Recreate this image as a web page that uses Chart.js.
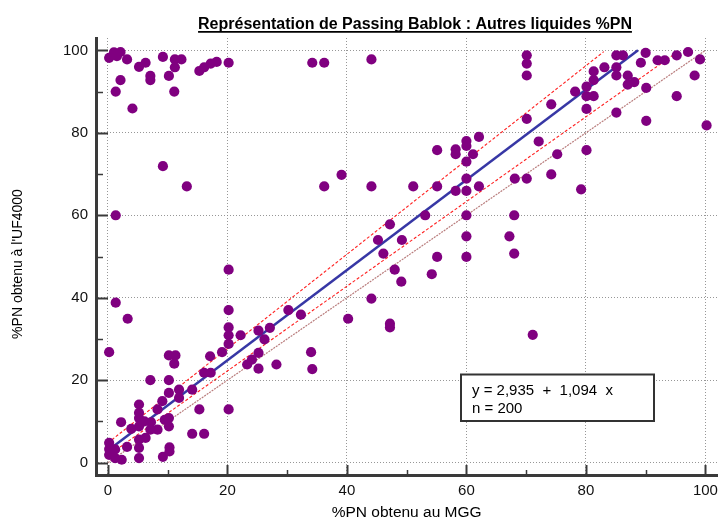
<!DOCTYPE html>
<html>
<head>
<meta charset="utf-8">
<script src="https://cdn.jsdelivr.net/npm/chart.js@4"></script>
<style>
html,body{margin:0;padding:0;background:#fff;}
#wrap{width:725px;height:520px;position:relative;}
</style>
</head>
<body>
<div id="wrap"><canvas id="c" width="725" height="520"></canvas></div>
<script>
// ---------- texts ----------
const chartTitle = 'Représentation de Passing Bablok : Autres liquides %PN';
const xAxisTitle = '%PN obtenu au MGG';
const yAxisTitle = "%PN obtenu à l'UF4000";

const xValues = [
  0.2, 1.0, 2.1, 1.5, 3.2, 5.2, 6.3, 7.1, 7.1, 9.2, 11.2, 12.3, 11.2, 10.2, 11.1, 2.1, 1.3, 4.1,
  15.3, 16.1, 17.2, 18.2, 20.2, 9.2, 13.2,
  34.2, 36.2, 44.1, 70.1, 70.1, 70.1, 70.1, 72.1, 62.1, 60.0, 60.0, 55.1, 58.2, 58.2, 61.1, 60.0,
  39.1, 36.2, 44.1, 51.1, 55.1, 60.0, 62.1, 58.2, 60.0, 68.1, 70.1,
  74.2, 78.2, 80.1, 80.1, 81.3, 81.3, 81.3, 80.1, 83.1, 85.1, 86.2, 85.1, 85.1, 85.1, 87.0, 87.0,
  88.1, 89.2, 90.0, 90.1, 90.1, 92.0, 93.2, 95.2, 95.2, 97.1, 99.1, 98.2, 100.2, 80.1, 75.2, 74.2, 79.2,
  47.2, 45.2, 49.2, 46.1, 53.1, 60.0, 68.0, 60.0, 67.2, 55.1, 60.0, 68.0, 48.0, 49.1, 54.2, 44.1,
  32.3, 40.2, 47.2, 47.2, 34.0, 71.1, 34.2,
  1.3, 20.2, 1.3, 3.3, 20.2, 20.2, 20.2, 22.2, 30.2, 25.2, 27.1, 20.2, 26.2, 25.2, 19.1, 17.1,
  24.1, 23.3, 25.2, 28.2, 16.1, 17.2,
  0.2, 10.2, 11.3, 11.1, 7.1, 10.2, 10.2, 11.9, 11.9, 14.1, 9.1, 5.2, 5.2, 5.2, 8.3, 15.3, 20.2,
  2.2, 3.9, 5.2, 6.1, 7.2, 10.2, 10.2, 9.5, 6.3, 8.3, 14.1, 16.1, 10.3, 10.3, 9.2, 5.2, 5.2, 3.2,
  0.2, 0.2, 0.2, 1.2, 2.3, 1.2, 5.2, 7.1
];
const yValues = [
  98.2, 99.5, 99.6, 98.6, 97.8, 96.0, 97.0, 93.8, 92.8, 98.4, 97.8, 97.8, 95.9, 93.8, 90.0, 92.8, 90.0, 85.9,
  95.0, 95.9, 96.8, 97.2, 97.0, 71.9, 67.0,
  97.0, 97.0, 97.8, 98.8, 96.8, 93.9, 83.4, 77.9, 79.0, 78.0, 76.8, 75.8, 76.0, 74.8, 74.8, 73.0,
  69.8, 67.0, 67.0, 67.0, 67.0, 68.9, 67.0, 65.9, 65.9, 68.9, 68.9,
  86.9, 90.0, 91.2, 88.9, 88.9, 94.9, 92.8, 85.8, 95.9, 98.8, 98.8, 95.9, 93.9, 84.9, 93.9, 91.7,
  92.3, 97.0, 99.4, 90.9, 82.9, 97.6, 97.6, 98.8, 88.9, 99.6, 97.8, 93.9, 81.8, 75.8, 74.8, 69.9, 66.3,
  57.8, 54.0, 54.0, 50.7, 60.0, 60.0, 60.0, 54.9, 54.9, 49.9, 49.9, 50.7, 46.8, 43.9, 45.7, 39.8,
  35.9, 34.9, 33.7, 32.8, 26.8, 31.0, 22.7,
  60.0, 46.8, 38.8, 34.9, 37.0, 32.8, 30.9, 30.9, 37.0, 32.0, 32.7, 28.8, 29.9, 26.6, 26.8, 25.8,
  25.0, 23.8, 22.8, 23.8, 21.8, 21.8,
  26.8, 26.0, 26.0, 24.0, 20.0, 20.0, 16.9, 17.7, 15.7, 17.7, 14.9, 14.1, 12.1, 10.8, 12.9, 12.9, 12.9,
  9.8, 8.2, 8.8, 10.0, 9.8, 10.8, 8.8, 10.4, 6.0, 8.0, 7.0, 7.0, 3.7, 2.7, 1.4, 3.6, 1.1, 3.8,
  4.8, 3.3, 1.9, 1.1, 0.7, 3.2, 5.6, 8.0
];

// ---------- fit & reference lines ----------
const intercept = 2.935;
const slope = 1.094;
const nObs = 200;
const regressionX = [0, (100 - intercept) / slope];
const ciUpperX = [0, 83.0];
const ciUpperY = [4.8, 99.7];
const ciLowerX = [0, 95.5];
const ciLowerY = [1.7, 99.8];
const identityX = [0, 100];
const identityY = [0, 100];

// ---------- axes ----------
const xRange = [-2, 102];
const yRange = [-3, 103];
const xTickValues = [0, 10, 20, 30, 40, 50, 60, 70, 80, 90, 100];
const yTickValues = [0, 10, 20, 30, 40, 50, 60, 70, 80, 90, 100];
const labelStep = 20;

// ---------- build ----------
const FONT = '"Liberation Sans", Arial, Helvetica, sans-serif';
Chart.defaults.font.family = FONT;
Chart.defaults.color = '#111';

const pts = xValues.map((x, i) => ({x: x, y: yValues[i]}));
const regLine = regressionX.map(x => ({x: x, y: intercept + slope * x}));
const upLine = ciUpperX.map((x, i) => ({x: x, y: ciUpperY[i]}));
const loLine = ciLowerX.map((x, i) => ({x: x, y: ciLowerY[i]}));
const idLine = identityX.map((x, i) => ({x: x, y: identityY[i]}));

const fmt = v => v.toFixed(3).replace('.', ',');

const decorPlugin = {
  id: 'decor',
  afterDraw(chart) {
    const ctx = chart.ctx;
    const area = chart.chartArea;
    const xs = chart.scales.x, ys = chart.scales.y;
    ctx.save();
    // inward tick marks
    ctx.strokeStyle = '#3a3a3a';
    yTickValues.forEach(v => {
      const major = v % labelStep === 0;
      const py = Math.round(ys.getPixelForValue(v)) + 0.5;
      ctx.lineWidth = major ? 2 : 1.5;
      ctx.beginPath();
      ctx.moveTo(area.left, py);
      ctx.lineTo(area.left + (major ? 12 : 7), py);
      ctx.stroke();
    });
    xTickValues.forEach(v => {
      const major = v % labelStep === 0;
      const px = Math.round(xs.getPixelForValue(v)) + 0.5;
      ctx.lineWidth = major ? 2 : 1.5;
      ctx.beginPath();
      ctx.moveTo(px, area.bottom);
      ctx.lineTo(px, area.bottom - (major ? 10 : 5));
      ctx.stroke();
    });
    // title with underline
    ctx.fillStyle = '#000';
    ctx.font = 'bold 16px ' + FONT;
    ctx.textAlign = 'center';
    ctx.textBaseline = 'alphabetic';
    const cx = 415, by = 29;
    ctx.fillText(chartTitle, cx, by);
    const w = ctx.measureText(chartTitle).width;
    ctx.lineWidth = 1.8;
    ctx.strokeStyle = '#000';
    ctx.beginPath();
    ctx.moveTo(cx - w / 2, by + 2.8);
    ctx.lineTo(cx + w / 2, by + 2.8);
    ctx.stroke();
    // y axis title
    ctx.save();
    ctx.translate(18, 264);
    ctx.rotate(-Math.PI / 2);
    ctx.font = '14px ' + FONT;
    ctx.textAlign = 'center';
    ctx.textBaseline = 'middle';
    ctx.fillText(yAxisTitle, 0, 0);
    ctx.restore();
    // equation box
    const bx = 461, bTop = 374.5, bw = 193, bh = 46.5;
    ctx.fillStyle = '#fff';
    ctx.fillRect(bx, bTop, bw, bh);
    ctx.lineWidth = 2;
    ctx.strokeStyle = '#333';
    ctx.strokeRect(bx, bTop, bw, bh);
    ctx.fillStyle = '#000';
    ctx.font = '15px ' + FONT;
    ctx.textAlign = 'left';
    ctx.fillText('y = ' + fmt(intercept) + '  +  ' + fmt(slope) + '  x', 472, 394.5);
    ctx.fillText('n = ' + nObs, 472, 413);
    ctx.restore();
  }
};

new Chart(document.getElementById('c'), {
  type: 'scatter',
  data: {
    datasets: [
      {
        type: 'scatter',
        data: pts,
        pointRadius: 5.1,
        pointHoverRadius: 5.1,
        pointBackgroundColor: '#800080',
        pointBorderWidth: 0,
        borderColor: '#800080'
      },
      {
        type: 'line', data: regLine, borderColor: 'rgb(55,55,165)', borderWidth: 2.5,
        pointRadius: 0, fill: false, tension: 0
      },
      {
        type: 'line', data: upLine, borderColor: 'rgba(255,20,20,0.95)', borderWidth: 1.1,
        borderDash: [3, 2], pointRadius: 0, fill: false, tension: 0
      },
      {
        type: 'line', data: loLine, borderColor: 'rgba(255,20,20,0.95)', borderWidth: 1.1,
        borderDash: [3, 2], pointRadius: 0, fill: false, tension: 0
      },
      {
        type: 'line', data: idLine, borderColor: 'rgb(185,125,125)', borderWidth: 1.2,
        borderDash: [2, 1], pointRadius: 0, fill: false, tension: 0
      }
    ]
  },
  options: {
    responsive: false,
    animation: false,
    devicePixelRatio: 1,
    layout: {padding: {top: 38, right: 2, left: 0, bottom: 0}},
    plugins: {
      legend: {display: false},
      tooltip: {enabled: false},
      title: {display: false}
    },
    scales: {
      x: {
        type: 'linear',
        position: 'bottom',
        min: xRange[0],
        max: xRange[1],
        afterBuildTicks: s => { s.ticks = xTickValues.map(v => ({value: v})); },
        afterFit: s => { s.height = 45; },
        ticks: {
          autoSkip: false, maxRotation: 0, padding: 7,
          font: {size: 15}, color: '#111',
          callback: v => (v % labelStep === 0 ? String(v) : '')
        },
        grid: {
          drawTicks: false,
          lineWidth: 1,
          color: c => (c.tick && c.tick.value % labelStep === 0 ? 'rgba(140,140,140,0.9)' : 'rgba(0,0,0,0)')
        },
        border: {display: true, color: '#3a3a3a', width: 3, dash: [1, 2]},
        title: {
          display: true, text: xAxisTitle, color: '#000',
          font: {size: 15.5, lineHeight: 1}, padding: {top: 0, bottom: 0}
        }
      },
      y: {
        type: 'linear',
        position: 'left',
        min: yRange[0],
        max: yRange[1],
        afterBuildTicks: s => { s.ticks = yTickValues.map(v => ({value: v})); },
        afterFit: s => { s.width = 96; },
        ticks: {
          autoSkip: false, padding: 8,
          font: {size: 15}, color: '#111',
          callback: v => (v % labelStep === 0 ? String(v) : '')
        },
        grid: {
          drawTicks: false,
          lineWidth: 1,
          color: c => (c.tick && c.tick.value % labelStep === 0 ? 'rgba(140,140,140,0.9)' : 'rgba(0,0,0,0)')
        },
        border: {display: true, color: '#3a3a3a', width: 3, dash: [1, 2]},
        title: {display: false, text: yAxisTitle}
      }
    }
  },
  plugins: [decorPlugin]
});
</script>
</body>
</html>
